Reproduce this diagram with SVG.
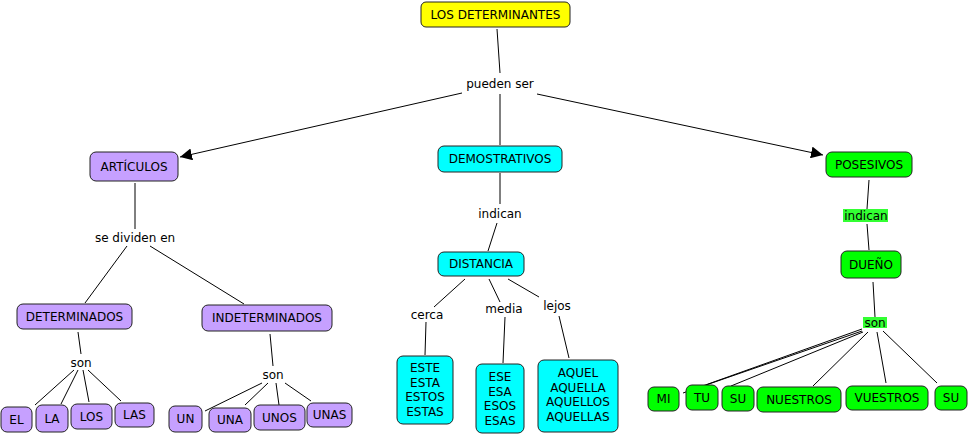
<svg xmlns="http://www.w3.org/2000/svg" width="970" height="435" viewBox="0 0 970 435">
<style>
text{font-family:"DejaVu Sans",Verdana,sans-serif;font-size:12px;fill:#000;text-anchor:middle;dominant-baseline:central}
.n{stroke:#222;stroke-width:1}
.p{fill:#c6a0ff}
.c{fill:#00ffff}
.g{fill:#00ff00}
.y{fill:#ffff00}
.l{stroke:#000;stroke-width:1;fill:none}
</style>
<defs>
<marker id="ah" viewBox="0 0 10 10" refX="10" refY="5" markerWidth="12" markerHeight="12" markerUnits="userSpaceOnUse" orient="auto">
<path d="M0,0 L10,5 L0,10 z" fill="#000"/>
</marker>
</defs>
<rect width="970" height="435" fill="#fff"/>
<g id="connectors">
<line class="l" x1="497" y1="29" x2="500" y2="73"/>
<line class="l" x1="500" y1="94" x2="500" y2="145"/>
<line class="l" x1="462" y1="93" x2="180" y2="157" marker-end="url(#ah)"/>
<line class="l" x1="537" y1="94" x2="823" y2="155" marker-end="url(#ah)"/>
<line class="l" x1="135" y1="183" x2="135" y2="229"/>
<line class="l" x1="127" y1="246" x2="85" y2="303"/>
<line class="l" x1="150" y1="246" x2="244" y2="304"/>
<line class="l" x1="78" y1="332" x2="81" y2="354"/>
<line class="l" x1="74" y1="370" x2="35" y2="405"/>
<line class="l" x1="78" y1="370" x2="61" y2="404"/>
<line class="l" x1="83" y1="370" x2="89" y2="402"/>
<line class="l" x1="88" y1="370" x2="121" y2="401"/>
<line class="l" x1="270" y1="334" x2="273" y2="366"/>
<line class="l" x1="262" y1="383" x2="205" y2="411"/>
<line class="l" x1="268" y1="383" x2="245" y2="405"/>
<line class="l" x1="276" y1="383" x2="279" y2="405"/>
<line class="l" x1="285" y1="383" x2="311" y2="401"/>
<line class="l" x1="500" y1="173" x2="500" y2="204"/>
<line class="l" x1="497" y1="223" x2="488" y2="251"/>
<line class="l" x1="465" y1="279" x2="434" y2="307"/>
<line class="l" x1="426" y1="322" x2="425" y2="355"/>
<line class="l" x1="489" y1="279" x2="500" y2="302"/>
<line class="l" x1="505" y1="317" x2="503" y2="363"/>
<line class="l" x1="508" y1="279" x2="539" y2="297"/>
<line class="l" x1="559" y1="316" x2="569" y2="358"/>
<line class="l" x1="869" y1="180" x2="867" y2="209"/>
<line class="l" x1="867" y1="224" x2="869" y2="250"/>
<line class="l" x1="873" y1="282" x2="875" y2="317"/>
<line class="l" x1="862" y1="329" x2="683" y2="393"/>
<line class="l" x1="862" y1="331" x2="706" y2="385"/>
<line class="l" x1="863" y1="332" x2="731" y2="386"/>
<line class="l" x1="868" y1="332" x2="813" y2="386"/>
<line class="l" x1="877" y1="332" x2="886" y2="383"/>
<line class="l" x1="883" y1="331" x2="937" y2="383"/>
</g>
<g id="labels">
<text x="500" y="84">pueden ser</text>
<text x="135" y="238">se dividen en</text>
<text x="81" y="363">son</text>
<text x="273" y="375">son</text>
<text x="500" y="214">indican</text>
<text x="427" y="315">cerca</text>
<text x="504" y="309">media</text>
<text x="557" y="306">lejos</text>
<rect x="843" y="209" width="45" height="13" fill="#00ff00" opacity="0.8"/>
<text x="866" y="216">indican</text>
<rect x="863" y="317" width="24" height="11" fill="#00ff00" opacity="0.8"/>
<text x="875" y="323">son</text>
</g>
<g id="n-los-determinantes"><rect class="n y" x="421" y="2" width="149" height="25" rx="5"/><text x="495.5" y="15">LOS DETERMINANTES</text></g>
<g id="n-articulos"><rect class="n p" x="90" y="152" width="88" height="29" rx="6"/><text x="134" y="167">ARTÍCULOS</text></g>
<g id="n-demostrativos"><rect class="n c" x="438" y="146" width="124" height="26" rx="6"/><text x="500" y="159">DEMOSTRATIVOS</text></g>
<g id="n-posesivos"><rect class="n g" x="826" y="152" width="86" height="25" rx="6"/><text x="869" y="165">POSESIVOS</text></g>
<g id="n-determinados"><rect class="n p" x="17" y="304" width="115" height="25" rx="6"/><text x="74.5" y="317">DETERMINADOS</text></g>
<g id="n-indeterminados"><rect class="n p" x="202" y="305" width="130" height="26" rx="6"/><text x="267" y="318">INDETERMINADOS</text></g>
<g id="n-el"><rect class="n p" x="1" y="407" width="31" height="25" rx="6"/><text x="16.5" y="420">EL</text></g>
<g id="n-la"><rect class="n p" x="36" y="405" width="32" height="27" rx="6"/><text x="52" y="419">LA</text></g>
<g id="n-los"><rect class="n p" x="71" y="404" width="41" height="25" rx="6"/><text x="91.5" y="417">LOS</text></g>
<g id="n-las"><rect class="n p" x="115" y="403" width="39" height="24" rx="6"/><text x="134.5" y="415">LAS</text></g>
<g id="n-un"><rect class="n p" x="169" y="406" width="33" height="26" rx="6"/><text x="185.5" y="419">UN</text></g>
<g id="n-una"><rect class="n p" x="209" y="408" width="42" height="24" rx="6"/><text x="230" y="420">UNA</text></g>
<g id="n-unos"><rect class="n p" x="254" y="405" width="51" height="25" rx="6"/><text x="279.5" y="418">UNOS</text></g>
<g id="n-unas"><rect class="n p" x="307" y="403" width="45" height="24" rx="6"/><text x="329.5" y="415">UNAS</text></g>
<g id="n-distancia"><rect class="n c" x="438" y="252" width="86" height="24" rx="6"/><text x="481" y="264">DISTANCIA</text></g>
<g id="n-este"><rect class="n c" x="397" y="356" width="56" height="68" rx="6"/><text x="425" y="368">ESTE</text><text x="425" y="383">ESTA</text><text x="425" y="397">ESTOS</text><text x="425" y="412">ESTAS</text></g>
<g id="n-ese"><rect class="n c" x="476" y="364" width="48" height="69" rx="6"/><text x="500" y="377">ESE</text><text x="500" y="392">ESA</text><text x="500" y="406">ESOS</text><text x="500" y="421">ESAS</text></g>
<g id="n-aquel"><rect class="n c" x="538" y="360" width="80" height="72" rx="6"/><text x="578" y="373">AQUEL</text><text x="578" y="388">AQUELLA</text><text x="578" y="402">AQUELLOS</text><text x="578" y="417">AQUELLAS</text></g>
<g id="n-dueno"><rect class="n g" x="841" y="251" width="60" height="27" rx="6"/><text x="871" y="265">DUEÑO</text></g>
<g id="n-mi"><rect class="n g" x="648" y="387" width="31" height="24" rx="6"/><text x="663.5" y="399">MI</text></g>
<g id="n-tu"><rect class="n g" x="686" y="385" width="32" height="25" rx="6"/><text x="702" y="398">TU</text></g>
<g id="n-su"><rect class="n g" x="722" y="386" width="32" height="25" rx="6"/><text x="738" y="399">SU</text></g>
<g id="n-nuestros"><rect class="n g" x="757" y="387" width="84" height="25" rx="6"/><text x="799" y="400">NUESTROS</text></g>
<g id="n-vuestros"><rect class="n g" x="846" y="386" width="82" height="24" rx="6"/><text x="887" y="398">VUESTROS</text></g>
<g id="n-su2"><rect class="n g" x="935" y="386" width="32" height="24" rx="6"/><text x="951" y="398">SU</text></g>
</svg>
